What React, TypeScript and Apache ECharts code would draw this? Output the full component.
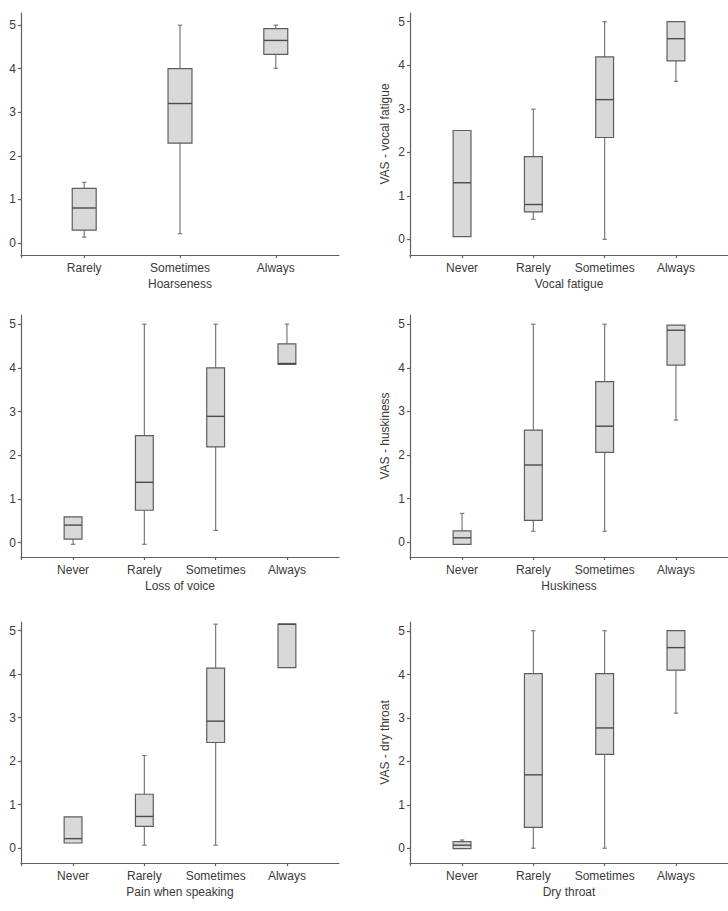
import React, { useEffect, useRef } from "react";
import * as echarts from "echarts";

// Each stats row: [min, Q1, median, Q3, max]
const hoarsenessCategories = ["Rarely", "Sometimes", "Always"];
const hoarsenessStats = [
  [0.13, 0.29, 0.8, 1.25, 1.39],
  [0.21, 2.29, 3.2, 4.0, 5.0],
  [4.01, 4.33, 4.65, 4.92, 5.0],
];
const frequencyCategories = ["Never", "Rarely", "Sometimes", "Always"];
const vocalFatigueStats = [
  [0.06, 0.06, 1.3, 2.5, 2.5],
  [0.46, 0.63, 0.8, 1.9, 2.99],
  [0.0, 2.34, 3.21, 4.19, 5.0],
  [3.63, 4.1, 4.61, 5.0, 5.0],
];
const lossOfVoiceStats = [
  [-0.04, 0.08, 0.4, 0.59, 0.59],
  [-0.04, 0.74, 1.38, 2.45, 5.0],
  [0.28, 2.19, 2.89, 4.0, 5.0],
  [4.08, 4.08, 4.1, 4.55, 5.0],
];
const huskinessStats = [
  [-0.05, -0.05, 0.1, 0.26, 0.66],
  [0.25, 0.5, 1.77, 2.57, 5.0],
  [0.25, 2.06, 2.66, 3.68, 5.0],
  [2.8, 4.06, 4.86, 4.98, 4.98],
];
const painStats = [
  [0.12, 0.12, 0.22, 0.72, 0.72],
  [0.07, 0.5, 0.73, 1.24, 2.13],
  [0.07, 2.43, 2.92, 4.14, 5.15],
  [4.15, 4.15, 5.15, 5.15, 5.15],
];
const dryThroatStats = [
  [-0.01, -0.01, 0.07, 0.15, 0.19],
  [0.0, 0.48, 1.69, 4.02, 5.01],
  [0.0, 2.16, 2.77, 4.02, 5.01],
  [3.11, 4.1, 4.62, 5.01, 5.01],
];
const yTickValues = [0, 1, 2, 3, 4, 5];

const FONT = "'Liberation Sans', Arial, Helvetica, sans-serif";
const TEXT = "#3a3a3a";
const AXIS = "#606060";

const panels = [
  { cats: hoarsenessCategories, stats: hoarsenessStats, xName: "Hoarseness", yName: "", left: 21, top: 13, width: 318, height: 242, xMin: -0.66, xMax: 2.66, yMin: -0.28, yMax: 5.28 },
  { cats: frequencyCategories, stats: vocalFatigueStats, xName: "Vocal fatigue", yName: "VAS - vocal fatigue", left: 410, top: 13, width: 320, height: 242, xMin: -0.73, xMax: 3.73, yMin: -0.36, yMax: 5.2 },
  { cats: frequencyCategories, stats: lossOfVoiceStats, xName: "Loss of voice", yName: "", left: 21, top: 315, width: 318, height: 242, xMin: -0.73, xMax: 3.73, yMin: -0.33, yMax: 5.21 },
  { cats: frequencyCategories, stats: huskinessStats, xName: "Huskiness", yName: "VAS - huskiness", left: 410, top: 315, width: 320, height: 242, xMin: -0.73, xMax: 3.73, yMin: -0.34, yMax: 5.21 },
  { cats: frequencyCategories, stats: painStats, xName: "Pain when speaking", yName: "", left: 21, top: 622, width: 318, height: 241, xMin: -0.73, xMax: 3.73, yMin: -0.34, yMax: 5.2 },
  { cats: frequencyCategories, stats: dryThroatStats, xName: "Dry throat", yName: "VAS - dry throat", left: 410, top: 622, width: 320, height: 241, xMin: -0.73, xMax: 3.73, yMin: -0.34, yMax: 5.21 },
];

function renderBox(params: any, api: any) {
  const x = api.value(0);
  const mn = api.value(1);
  const q1 = api.value(2);
  const med = api.value(3);
  const q3 = api.value(4);
  const mx = api.value(5);
  const pMin = api.coord([x, mn]);
  const pQ1 = api.coord([x, q1]);
  const pMed = api.coord([x, med]);
  const pQ3 = api.coord([x, q3]);
  const pMax = api.coord([x, mx]);
  const w = api.size([0.25, 0])[0];
  const cx = pMed[0];
  const cap = 2.2;
  const children: any[] = [];
  const whisker = { stroke: "#7a7a7a", lineWidth: 1.2 };
  if (mx - q3 > 0.005) {
    children.push({ type: "line", shape: { x1: cx, y1: pQ3[1], x2: cx, y2: pMax[1] }, style: whisker });
    children.push({ type: "line", shape: { x1: cx - cap, y1: pMax[1], x2: cx + cap, y2: pMax[1] }, style: whisker });
  }
  if (q1 - mn > 0.005) {
    children.push({ type: "line", shape: { x1: cx, y1: pQ1[1], x2: cx, y2: pMin[1] }, style: whisker });
    children.push({ type: "line", shape: { x1: cx - cap, y1: pMin[1], x2: cx + cap, y2: pMin[1] }, style: whisker });
  }
  children.push({
    type: "rect",
    shape: { x: cx - w / 2, y: pQ3[1], width: w, height: pQ1[1] - pQ3[1] },
    style: { fill: "#d9d9d9", stroke: "#5e5e5e", lineWidth: 1.2 },
  });
  children.push({
    type: "line",
    shape: { x1: cx - w / 2, y1: pMed[1], x2: cx + w / 2, y2: pMed[1] },
    style: { stroke: "#4a4a4a", lineWidth: 1.4 },
  });
  return { type: "group", children };
}

export default function App() {
  const ref = useRef<HTMLDivElement>(null);
  useEffect(() => {
    if (!ref.current) return;
    const chart = echarts.init(ref.current, undefined, { renderer: "svg" });
    const option: any = {
      animation: false,
      backgroundColor: "#ffffff",
      textStyle: { fontFamily: FONT },
      grid: panels.map((p) => ({ left: p.left, top: p.top, width: p.width, height: p.height, containLabel: false })),
      xAxis: panels.map((p, i) => ({
        type: "value",
        gridIndex: i,
        min: p.xMin,
        max: p.xMax,
        name: p.xName,
        nameLocation: "middle",
        nameGap: 23,
        nameTextStyle: { color: TEXT, fontSize: 12, fontFamily: FONT },
        splitLine: { show: false },
        axisLine: { show: true, onZero: false, lineStyle: { color: AXIS, width: 1.2 } },
        axisTick: {
          show: true,
          length: 3,
          customValues: [p.xMin, ...p.cats.map((_, k) => k)],
          lineStyle: { color: AXIS, width: 1.2 },
        },
        axisLabel: {
          customValues: p.cats.map((_, k) => k),
          formatter: (v: number) => p.cats[Math.round(v)] ?? "",
          margin: 7,
          color: TEXT,
          fontSize: 12,
          fontFamily: FONT,
        },
      })),
      yAxis: panels.map((p, i) => ({
        type: "value",
        gridIndex: i,
        min: p.yMin,
        max: p.yMax,
        name: p.yName,
        nameLocation: "middle",
        nameGap: 19,
        nameTextStyle: { color: TEXT, fontSize: 12, fontFamily: FONT },
        splitLine: { show: false },
        axisLine: { show: true, onZero: false, lineStyle: { color: AXIS, width: 1.2 } },
        axisTick: { show: true, length: 3, customValues: yTickValues, lineStyle: { color: AXIS, width: 1.2 } },
        axisLabel: {
          customValues: yTickValues,
          margin: 5,
          color: TEXT,
          fontSize: 12,
          fontFamily: FONT,
        },
      })),
      series: panels.map((p, i) => ({
        type: "custom",
        xAxisIndex: i,
        yAxisIndex: i,
        clip: false,
        renderItem: renderBox,
        encode: { x: 0, y: [1, 2, 3, 4, 5] },
        data: p.stats.map((s, k) => [k, ...s]),
      })),
    };
    chart.setOption(option);
    return () => chart.dispose();
  }, []);
  return <div ref={ref} style={{ width: 728, height: 911, position: "absolute", left: 0, top: 0 }} />;
}
